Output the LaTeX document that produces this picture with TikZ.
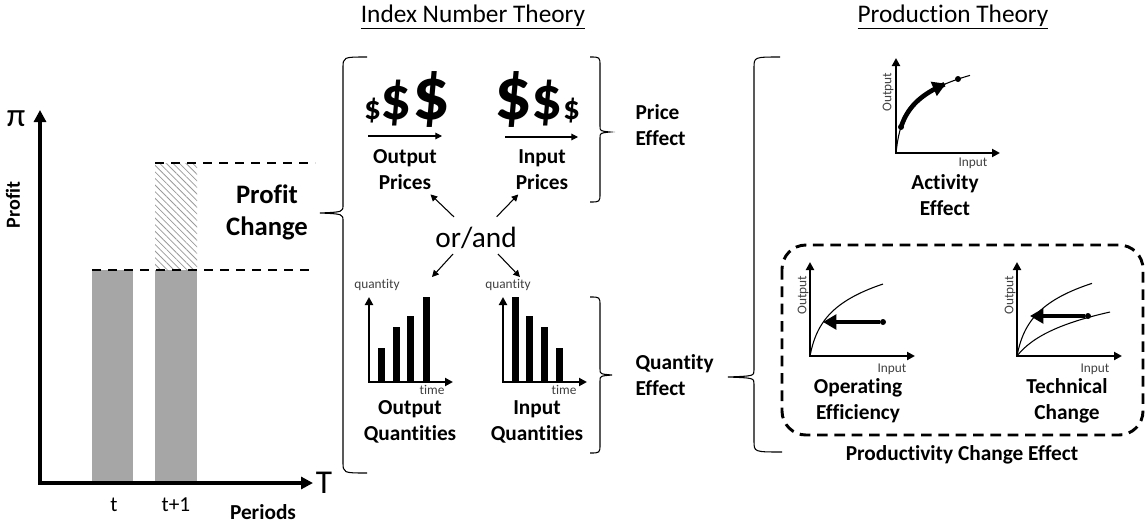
\documentclass[tikz,border=0pt]{standalone}
\usepackage{fontspec}
\setmainfont{Carlito}[Ligatures=CommonOff]
\usetikzlibrary{arrows.meta,patterns.meta}

\begin{document}
\begin{tikzpicture}[x=0.75pt,y=-0.75pt,
  lbl/.style={font=\bfseries\fontsize{16}{19.5}\selectfont,align=center,inner sep=1pt},
  tiny/.style={font=\fontsize{10}{10}\selectfont,text=black!75,inner sep=0pt},
  head/.style={font=\fontsize{19}{22}\selectfont,inner sep=0pt},
  dashline/.style={line width=1.5pt,dash pattern=on 7pt off 5pt},
  bigaxis/.style={line width=3pt,{Triangle[length=9pt,width=9pt]}-{Triangle[length=9pt,width=9pt]}},
  axis/.style={line width=1.5pt,{Triangle[length=6pt,width=6pt]}-{Triangle[length=6pt,width=6pt]}},
  arr/.style={line width=0.8pt,-{Triangle[length=5pt,width=5pt]}},
  fatarr/.style={line width=3pt,-{Triangle[length=10pt,width=11pt]}},
  curly/.style={line width=0.8pt}]
\useasboundingbox (0,0) rectangle (1146,525);

% profit over periods
\fill[gray!70] (92,270) rectangle (133,483);
\fill[gray!70] (155,270) rectangle (197,483);
\fill[pattern={Lines[angle=-45,distance=3.5pt,line width=0.6pt]},pattern color=gray!80] (155,163) rectangle (197,270);
\draw[dashline] (155,163) -- (315,163);
\draw[dashline] (92,270) -- (312,270);
\draw[bigaxis] (40,110) |- (313,483);
\node[font=\fontsize{25}{25}\selectfont] (pi) at (16,119) {π};
\node[font=\fontsize{25}{25}\selectfont] (T) at (324,483) {T};
\node[font=\bfseries\fontsize{15}{15}\selectfont,rotate=90] (profit) at (13,205) {Profit};
\node[font=\fontsize{16}{16}\selectfont] (t) at (114,505) {t};
\node[font=\fontsize{16}{16}\selectfont] (t1) at (176,505) {t+1};
\node[font=\bfseries\fontsize{16}{16}\selectfont] (periods) at (263,512) {Periods};
\node[lbl,font=\bfseries\fontsize{20}{24}\selectfont] (pchange) at (267,212) {Profit\\Change};

% index number theory
\node[head] (int) at (473,17) {\underline{Index Number Theory}};
\draw[curly] (367,57) .. controls (343,57) .. (343,68) -- (343,205) .. controls (343,212) .. (320,213)
  .. controls (343,214) .. (343,221) -- (343,462) .. controls (343,473) .. (367,473);

\node[font=\bfseries,anchor=base,inner sep=0pt] (outdol) at (407,119)
  {\fontsize{25}{25}\selectfont\$\fontsize{46}{46}\selectfont\$\fontsize{56}{56}\selectfont\$};
\node[font=\bfseries,anchor=base,inner sep=0pt] (indol) at (537,119)
  {\fontsize{56}{56}\selectfont\$\fontsize{46}{46}\selectfont\$\fontsize{25}{25}\selectfont\$};
\draw[arr] (368,136) -- (442,136);
\draw[arr] (505,137) -- (578,137);
\node[lbl] (outpr) at (405,170) {Output\\Prices};
\node[lbl] (inpr) at (542,170) {Input\\Prices};

\node[font=\fontsize{22}{22}\selectfont] (orand) at (476,238) {or/and};
\draw[arr,shorten <=6pt,shorten >=3pt] (orand) -- (outpr);
\draw[arr,shorten <=6pt,shorten >=3pt] (orand) -- (inpr);
\coordinate (outq) at (432,277);
\coordinate (inq) at (520,277);
\draw[arr] ([shift={(-23,16)}]orand.center) -- (outq);
\draw[arr] ([shift={(22,16)}]orand.center) -- (inq);

% quantity charts
\draw[axis] (369,297) |- (453,382);
\foreach \x/\h in {381/348,396/327,410/316,426/297}
  \fill (\x-3.5,\h) rectangle (\x+3.5,382);
\node[tiny] (q1) at (377,285) {quantity};
\node[tiny] (tm1) at (432,390) {time};
\node[lbl] (outqty) at (410,422) {Output\\Quantities};

\draw[axis] (503,297) |- (587,382);
\foreach \x/\h in {515/297,529/316,544/327,559/348}
  \fill (\x-3.5,\h) rectangle (\x+3.5,382);
\node[tiny] (q2) at (508,285) {quantity};
\node[tiny] (tm2) at (564,390) {time};
\node[lbl] (inqty) at (537,422) {Input\\Quantities};

\draw[curly] (590,57) .. controls (600,57) .. (600,66) -- (600,126) .. controls (600,131) .. (610,132)
  .. controls (600,133) .. (600,138) -- (600,193) .. controls (600,202) .. (590,202);
\draw[curly] (590,297) .. controls (600,297) .. (600,306) -- (600,369) .. controls (600,374) .. (612,375)
  .. controls (600,376) .. (600,381) -- (600,444) .. controls (600,453) .. (590,453);
\node[lbl,anchor=west,align=left] (peff) at (634,125) {Price\\Effect};
\node[lbl,anchor=west,align=left] (qeff) at (634,375) {Quantity\\Effect};

% production theory
\node[head] (prodth) at (953,17) {\underline{Production Theory}};
\draw[curly] (780,57) .. controls (754,57) .. (754,68) -- (754,370) .. controls (754,376) .. (728,377)
  .. controls (754,378) .. (754,384) -- (754,441) .. controls (754,452) .. (782,452);

% activity effect
\draw[axis] (896,58) |- (1000,153);
\draw[line width=0.8pt] plot[domain=0:74,samples=60] ({896+\x},{153-21.9*ln(1+\x/2.2)});
\draw[fatarr,line width=3.5pt] plot[domain=5:50,samples=30] ({896+\x},{153-21.9*ln(1+\x/2.2)});
\fill (901,127) circle (3);
\fill (958,79) circle (3);
\node[tiny,rotate=90] (ao) at (888,92) {Output};
\node[tiny] (ai) at (973,163) {Input};
\node[lbl] (act) at (945,195) {Activity\\Effect};

% productivity change
\draw[line width=2.2pt,dash pattern=on 8pt off 5pt,rounded corners=18pt] (782,245) rectangle (1143,435);

\draw[axis] (810,262) |- (915,356);
\draw[line width=0.8pt] plot[domain=0:73,samples=60] ({810+\x},{356-26.2*ln(1+\x/5)});
\fill (883,322) circle (3);
\draw[fatarr] (880,322) -- (823,322);
\node[tiny,rotate=90] (oo) at (803,295) {Output};
\node[tiny] (oi) at (892,369) {Input};
\node[lbl] (opeff) at (858,401) {Operating\\Efficiency};

\draw[axis] (1017,262) |- (1122,356);
\draw[line width=0.8pt] plot[domain=0:75,samples=60] ({1017+\x},{356-26.2*ln(1+\x/5)});
\draw[line width=0.8pt] plot[domain=0:93,samples=60] ({1017+\x},{356-25.4*ln(1+\x/20)});
\fill (1088,316) circle (3);
\draw[fatarr] (1085,316) -- (1030,316);
\node[tiny,rotate=90] (to) at (1010,295) {Output};
\node[tiny] (ti) at (1095,369) {Input};
\node[lbl] (tech) at (1067,401) {Technical\\Change};

\node[lbl] (pce) at (962,455) {Productivity Change Effect};
\end{tikzpicture}
\end{document}
